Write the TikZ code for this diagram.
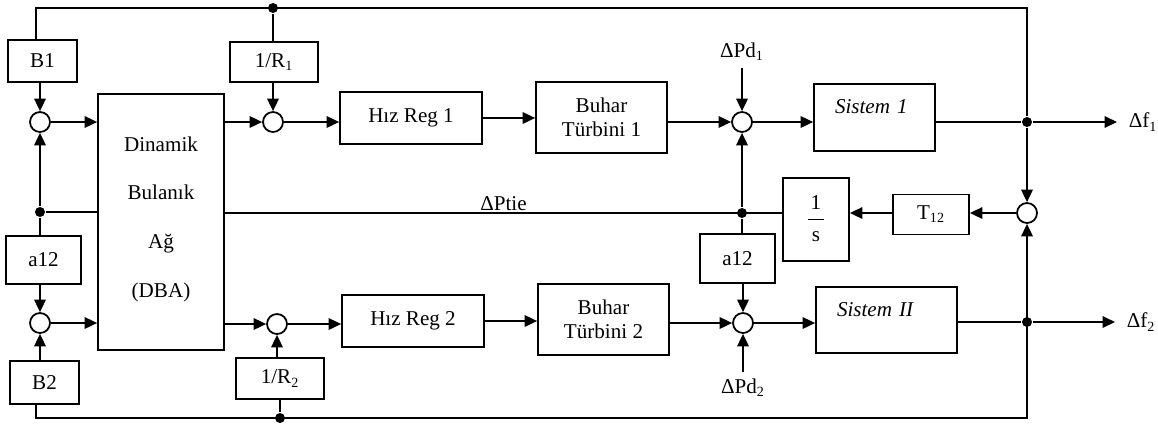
\documentclass[tikz,border=0pt]{standalone}
\usepackage{fontspec}
\setmainfont{Liberation Serif}
\usetikzlibrary{arrows.meta}

% 1/s blogu icin kesir
\newcommand{\kesir}{{\renewcommand{\arraystretch}{1.3}%
\begin{tabular}{@{\hspace{1.5pt}}c@{\hspace{1.5pt}}}1\\\hline s\end{tabular}}}

\begin{document}
\begin{tikzpicture}[x=0.02cm,y=-0.02cm,line width=1pt,
  every node/.style={font=\fontsize{12}{13.5}\selectfont},
  blok/.style={draw,rectangle,align=center,inner sep=0pt},
  topla/.style={draw,circle,minimum size=0.4cm,inner sep=0pt},
  nokta/.style={fill,circle,minimum size=0.2cm,inner sep=0pt},
  sistem/.style={blok,font=\fontsize{12}{13.5}\selectfont\itshape,align=left,
    inner xsep=0.42cm,text height=0.59cm,text depth=0.74cm},
  ok/.style={-{Triangle[length=0.25cm,width=0.23cm]}}]
\useasboundingbox (0,0) rectangle (1158,423);

% sol taraf
\node[blok,minimum width=1.38cm,minimum height=0.84cm] (b1) at (42.5,61) {B1};
\node[topla] (s1) at (40,122) {};
\node[nokta] (d1) at (40,212) {};
\node[blok,minimum width=1.5cm,minimum height=0.96cm] (a1) at (43.5,260) {a12};
\node[topla] (s2) at (40,323) {};
\node[blok,minimum width=1.38cm,minimum height=0.86cm] (b2) at (44.5,382.5) {B2};
\node[blok,minimum width=2.52cm,minimum height=5.12cm,
  font=\fontsize{12}{27.8}\selectfont] (dba) at (161,222) {Dinamik\\Bulanık\\Ağ\\(DBA)\\[-0.78cm]};

% ust kol
\node[blok,minimum width=1.76cm,minimum height=0.8cm] (r1) at (274,62) {1/R\textsubscript{1}};
\node[topla] (s3) at (273,122) {};
\node[blok,minimum width=2.84cm,minimum height=1.04cm] (hiz1) at (411,118) {Hız Reg 1};
\node[blok,minimum width=2.62cm,minimum height=1.42cm] (tb1) at (601.5,117.5) {Buhar\\Türbini 1};
\node[topla] (s4) at (742,122) {};
\node (pd1) at (742,52) {ΔPd\textsubscript{1}};
\node[sistem,text width=1.58cm] (sis1) at (874.5,117.5) {Sistem 1};
\node[nokta] (d2) at (1027,122) {};
\node[anchor=west,inner xsep=0.22cm] (f1) at (1117,122) {Δf\textsubscript{1}};

% bag hatti
\node[topla] (s5) at (1027,213) {};
\node[blok,minimum width=1.52cm,minimum height=0.8cm] (t12) at (931,214.5) {T\textsubscript{12}};
\node[blok,minimum width=1.32cm,minimum height=1.66cm] (ints) at (816,219.5) {\kesir};
\node[nokta] (d3) at (742,213) {};
\node[blok,minimum width=1.5cm,minimum height=0.98cm] (a2) at (737.5,258.5) {a12};

% alt kol
\node[topla] (s6) at (277,324) {};
\node[blok,minimum width=1.76cm,minimum height=0.82cm] (r2) at (280,378.5) {1/R\textsubscript{2}};
\node[blok,minimum width=2.84cm,minimum height=1.04cm] (hiz2) at (413,321) {Hız Reg 2};
\node[blok,minimum width=2.62cm,minimum height=1.42cm] (tb2) at (603.5,319.5) {Buhar\\Türbini 2};
\node[topla] (s7) at (743,323) {};
\node (pd2) at (743,388) {ΔPd\textsubscript{2}};
\node[sistem,text width=1.98cm] (sis2) at (886.5,320) {Sistem II};
\node[nokta] (d4) at (1027,322) {};
\node[anchor=west,inner xsep=0.22cm] (f2) at (1115,322) {Δf\textsubscript{2}};

% geri besleme hatlari
\node[nokta] (d5) at (273,8) {};
\node[nokta] (d6) at (280,418) {};
\coordinate (k1) at (36,8);
\coordinate (k2) at (1027,8);
\coordinate (k3) at (36,418);
\coordinate (k4) at (1027,418);

\draw (b1.north -| k1) -- (k1) -- (k2) -- (d2);
\draw (d5) -- (d5 |- r1.north);
\draw[ok] (r1.south -| s3) -- (s3);
\draw[ok] (b1.south -| s1) -- (s1);
\draw[ok] (d1) -- (s1);
\draw (d1) -- (a1.north -| d1);
\draw (d1) -- (d1 -| dba.west);
\draw[ok] (a1.south -| s2) -- (s2);
\draw[ok] (b2.north -| s2) -- (s2);
\draw[ok] (b2.south -| k3) -- (k3) -- (k4) -- (s5);
\draw (d6) -- (r2.south -| d6);
\draw[ok] (r2.north -| s6) -- (s6);

% DBA giris ve cikislari
\draw[ok] (s1) -- (s1 -| dba.west);
\draw[ok] (s2) -- (s2 -| dba.west);
\draw[ok] (dba.east |- s3) -- (s3);
\draw[ok] (dba.east |- s6) -- (s6);

% bolge 1
\draw[ok] (s3) -- (s3 -| hiz1.west);
\draw[ok] (hiz1.east) -- (hiz1.east -| tb1.west);
\draw[ok] (tb1.east |- s4) -- (s4);
\draw[ok] (pd1) -- (s4);
\draw[ok] (s4) -- (s4 -| sis1.west);
\draw (sis1.east |- d2) -- (d2);
\draw[ok] (d2) -- (f1);
\draw[ok] (d2) -- (s5);

% bag gucu
\draw[ok] (s5) -- (s5 -| t12.east);
\draw[ok] (t12.west |- s5) -- (ints.east |- s5);
\draw (ints.west |- d3) -- node[above,inner sep=1pt] {ΔPtie} (d3 -| dba.east);
\draw[ok] (d3) -- (s4);
\draw (d3) -- (a2.north -| d3);
\draw[ok] (a2.south -| s7) -- (s7);

% bolge 2
\draw[ok] (s6) -- (s6 -| hiz2.west);
\draw[ok] (hiz2.east) -- (hiz2.east -| tb2.west);
\draw[ok] (tb2.east |- s7) -- (s7);
\draw[ok] (pd2) -- (s7);
\draw[ok] (s7) -- (s7 -| sis2.west);
\draw (sis2.east |- d4) -- (d4);
\draw[ok] (d4) -- (f2);
\end{tikzpicture}
\end{document}
